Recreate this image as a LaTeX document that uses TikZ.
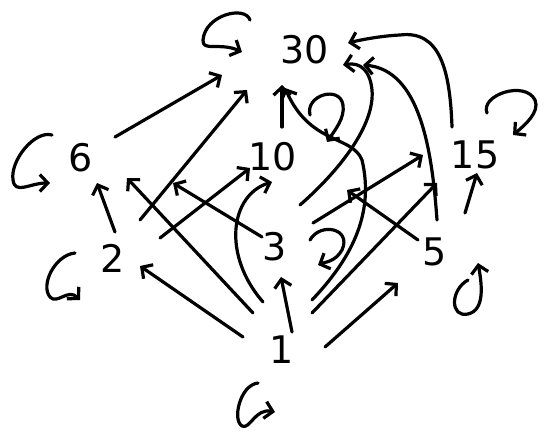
\documentclass[tikz,border=0pt]{standalone}
\usepackage{fontspec}
\setmainfont{DejaVu Sans}
\usetikzlibrary{arrows.meta,calc}
\begin{document}
\begin{tikzpicture}[x=1pt,y=-1pt,
  lbl/.style={inner sep=0pt,font=\fontsize{38}{38}\selectfont},
  arr/.style={line width=3.2pt,line cap=round,line join=round,-{Straight Barb[length=8pt,width=17pt]}}]
\useasboundingbox (0,0) rectangle (545,433);
% nodes
\node[lbl] (n30) at (305,50) {30};
\node[lbl] (n6)  at (81,158) {6};
\node[lbl] (n10) at (273,157) {10};
\node[lbl] (n15) at (475,155) {15};
\node[lbl] (n2)  at (113,258) {2};
\node[lbl] (n3)  at (275,247) {3};
\node[lbl] (n5)  at (435,252) {5};
\node[lbl] (n1)  at (282,350) {1};
% edges from 1
\draw[arr] ($(n1)+(-39,-13)$) -- ($(n2)+(27,8)$);
\draw[arr] ($(n1)+(-29,-37)$) -- ($(n6)+(46,20)$);
\draw[arr] ($(n1)+(-19,-48)$) .. controls (222,255) and (230,195) .. ($(n10)+(-1,25)$);
\draw[arr] ($(n1)+(10,-18)$) -- ($(n3)+(6,30)$);
\draw[arr] ($(n1)+(43,-3)$) -- ($(n5)+(-37,31)$);
\draw[arr] ($(n1)+(30,-37)$) -- ($(n15)+(-38,28)$);
\draw[arr] ($(n1)+(30,-50)$) .. controls (350,260) and (375,215) .. (362,160) .. controls (352,135) and (310,145) .. ($(n30)+(-20,38)$);
% edges from 2
\draw[arr] ($(n2)+(2,-26)$) -- ($(n6)+(16,25)$);
\draw[arr] ($(n2)+(47,-20)$) -- ($(n10)+(-23,11)$);
\draw[arr] ($(n2)+(27,-38)$) -- ($(n30)+(-58,40)$);
% edges from 3
\draw[arr] ($(n3)+(-13,-10)$) -- ($(n6)+(92,25)$);
\draw[arr] ($(n3)+(38,-24)$) -- ($(n15)+(-52,0)$);
\draw[arr] ($(n3)+(25,-42)$) .. controls (340,170) and (375,125) .. (372,90) .. controls (370,70) and (360,62) .. ($(n30)+(38,15)$);
% edges from 5
\draw[arr] ($(n5)+(-17,-12)$) -- ($(n10)+(74,33)$);
\draw[arr] ($(n5)+(30,-39)$) -- ($(n15)+(2,18)$);
\draw[arr] ($(n5)+(2,-32)$) .. controls (432,150) and (420,70) .. ($(n30)+(58,15)$);
% edges to 30
\draw[arr] ($(n6)+(34,-21)$) -- ($(n30)+(-83,25)$);
\draw[arr] ($(n10)+(9,-30)$) -- ($(n30)+(-23,35)$);
\draw[arr] ($(n15)+(-23,-28)$) .. controls (450,70) and (440,30) .. (400,35) .. controls (380,36) and (360,40) .. ($(n30)+(43,-7)$);
% self loops
\draw[arr] ($(n30)+(-55,-30)$) .. controls (245,5) and (205,15) .. (203,40) .. controls (202,52) and (220,42) .. ($(n30)+(-63,2)$);
\draw[arr] ($(n6)+(-29,-23)$) .. controls (35,130) and (10,160) .. (13,180) .. controls (15,195) and (30,183) .. ($(n6)+(-31,25)$);
\draw[arr] ($(n2)+(-38,-5)$) .. controls (55,255) and (40,285) .. (50,297) .. controls (57,305) and (68,288) .. ($(n2)+(-33,42)$);
\draw[arr] ($(n1)+(-24,33)$) .. controls (240,385) and (232,420) .. (242,426) .. controls (250,430) and (255,408) .. ($(n1)+(-7,62)$);
\draw[arr] ($(n3)+(35,-7)$) .. controls (320,222) and (352,228) .. (342,250) .. controls (335,262) and (325,262) .. ($(n3)+(43,18)$);
\draw[arr] ($(n5)+(33,28)$) .. controls (450,290) and (450,318) .. (468,314) .. controls (485,310) and (482,285) .. ($(n5)+(43,11)$);
\draw[arr] ($(n15)+(12,-42)$) .. controls (480,95) and (525,80) .. (535,100) .. controls (540,112) and (525,125) .. ($(n15)+(38,-20)$);
\draw[arr] ($(n10)+(37,-42)$) .. controls (305,95) and (340,85) .. (343,105) .. controls (345,118) and (335,130) .. ($(n10)+(54,-15)$);
\end{tikzpicture}
\end{document}
